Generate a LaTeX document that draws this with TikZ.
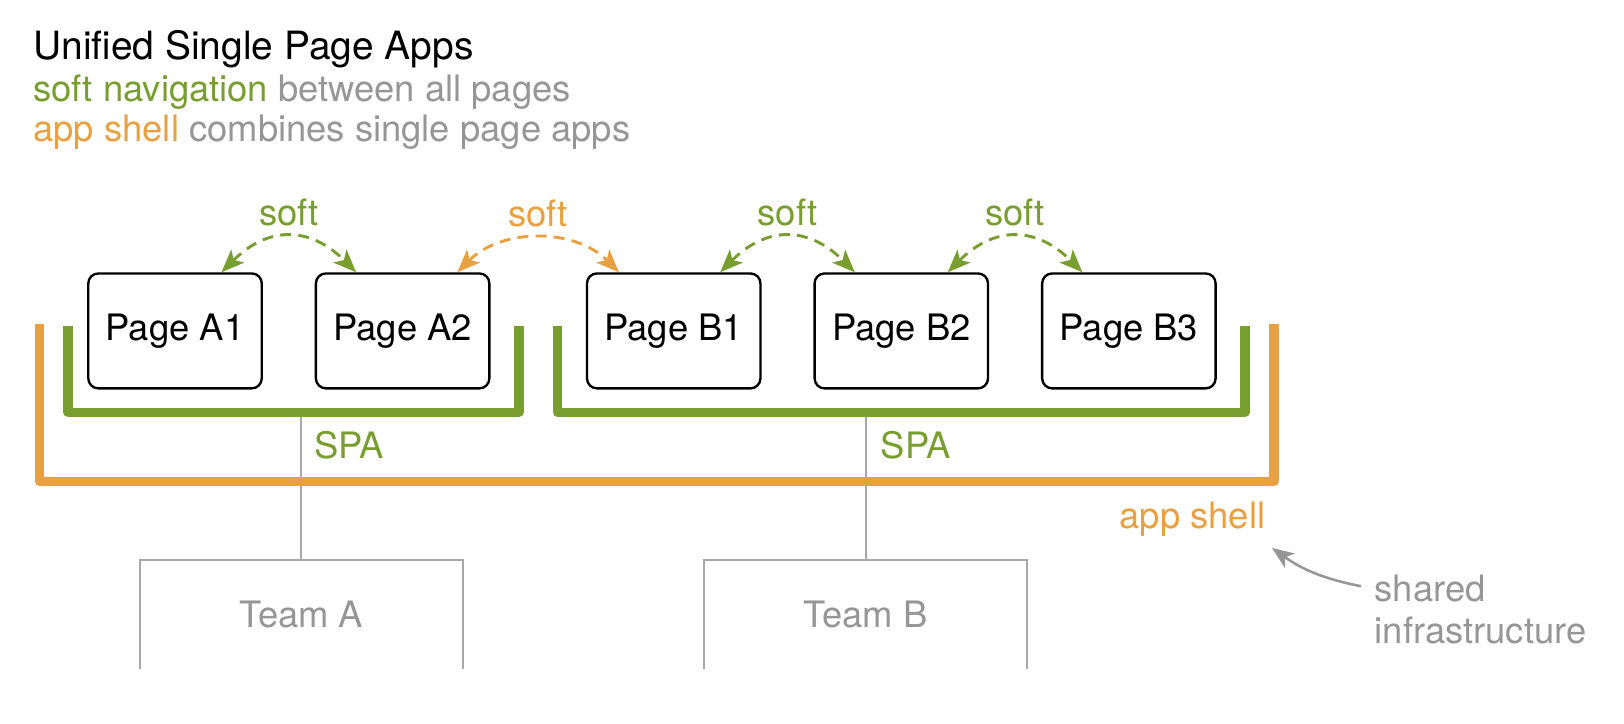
\documentclass[tikz,border=0pt]{standalone}
\usepackage{fontspec}
\setmainfont{TeX Gyre Heros}
\usetikzlibrary{positioning, arrows.meta, calc}
\definecolor{spagreen}{RGB}{120,158,48}
\definecolor{shellorange}{RGB}{232,160,64}
\definecolor{notegray}{RGB}{150,150,150}
\definecolor{linegray}{RGB}{168,168,168}
\tikzset{
  page/.style={rectangle, rounded corners=5.5pt, minimum width=3.35cm, minimum height=2.22cm, text centered, draw=black, line width=1.3pt, fill=white},
  team/.style={rectangle, minimum width=6.22cm, minimum height=2.09cm, text centered, text=notegray},
  bracket/.style={line width=5.1pt, line join=round},
  spabracket/.style={bracket, draw=spagreen},
  shellbracket/.style={bracket, draw=shellorange},
  infra/.style={draw=linegray, line width=1.1pt},
  softarrow/.style={line width=1.6pt, dash pattern=on 6pt off 4pt, <->, >={Stealth[length=12.5pt, width=10pt, inset=3pt]}},
  softlabel/.style={above, yshift=2.2pt},
  notearrow/.style={draw=notegray, line width=1.4pt, ->, >={Stealth[length=12pt, width=9.5pt, inset=3pt]}}
}

\begin{document}
\begin{tikzpicture}[x=0.02cm, y=0.02cm, node distance=1cm, every node/.style={font=\fontsize{20}{23.2}\selectfont}]
  \useasboundingbox (0,0) rectangle (1568,-699);

  % heading
  \node (title) [anchor=base west, inner sep=0pt, font=\fontsize{21.4}{24}\selectfont] at (32,-57.5) {Unified Single Page Apps};
  \node (navnote) [anchor=base west, inner sep=0pt, text=notegray] at (32,-98) {\textcolor{spagreen}{soft navigation} between all pages};
  \node (shellnote) [anchor=base west, inner sep=0pt, text=notegray] at (32,-137) {\textcolor{shellorange}{app shell} combines single page apps};

  % teams below the shell
  \node (teamA) [team] at (290.8,-593) {Team A};
  \node (teamB) [team] at (835.8,-593) {Team B};
  \draw [infra] (teamA.south west) -- (teamA.north west) -- (teamA.north east) -- (teamA.south east);
  \draw [infra] (teamB.south west) -- (teamB.north west) -- (teamB.north east) -- (teamB.south east);
  \coordinate (spaA) at (290.8,-398);
  \coordinate (spaB) at (835.8,-398);
  \draw [infra] (spaA) -- (teamA.north);
  \draw [infra] (spaB) -- (teamB.north);

  % brackets
  \draw [shellbracket] (38.3,-313) |- (1230,-465) -- (1230,-313);
  \draw [spabracket] (65.7,-314.5) |- (501,-398) -- (501,-314.5);
  \draw [spabracket] (538.5,-314.5) |- (1202,-398) -- (1202,-314.5);
  \node (spaAtext) [anchor=west, inner sep=0pt, text=spagreen] at (303,-430) {SPA};
  \node (spaBtext) [anchor=west, inner sep=0pt, text=spagreen] at (850,-430) {SPA};
  \node (shell) [anchor=base east, inner sep=0pt, text=shellorange] at (1222,-510) {app shell};

  % pages
  \node (pA1) [page] at (169,-319.5) {Page A1};
  \node (pA2) [page, right=of pA1] {Page A2};
  \node (pB1) [page, right=1.84cm of pA2] {Page B1};
  \node (pB2) [page, right=of pB1] {Page B2};
  \node (pB3) [page, right=of pB2] {Page B3};

  % soft navigation
  \draw [softarrow, spagreen] ([xshift=-0.8cm]pA1.north east) to[bend left=45, looseness=1.25] node[softlabel] {soft} ([xshift=0.8cm]pA2.north west);
  \draw [softarrow, shellorange] ([xshift=-0.64cm]pA2.north east) to[bend left=45] node[softlabel] {soft} ([xshift=0.64cm]pB1.north west);
  \draw [softarrow, spagreen] ([xshift=-0.8cm]pB1.north east) to[bend left=45, looseness=1.25] node[softlabel] {soft} ([xshift=0.8cm]pB2.north west);
  \draw [softarrow, spagreen] ([xshift=-0.8cm]pB2.north east) to[bend left=45, looseness=1.25] node[softlabel] {soft} ([xshift=0.8cm]pB3.north west);

  % note
  \node (shared) [anchor=north west, inner sep=0pt, align=left, text=notegray] at (1327,-555) {shared\\infrastructure};
  \draw [notearrow] ([shift={(-13,-11)}]shared.north west) to[bend left=12] ([shift={(6,-11)}]shell.south east);
\end{tikzpicture}
\end{document}
